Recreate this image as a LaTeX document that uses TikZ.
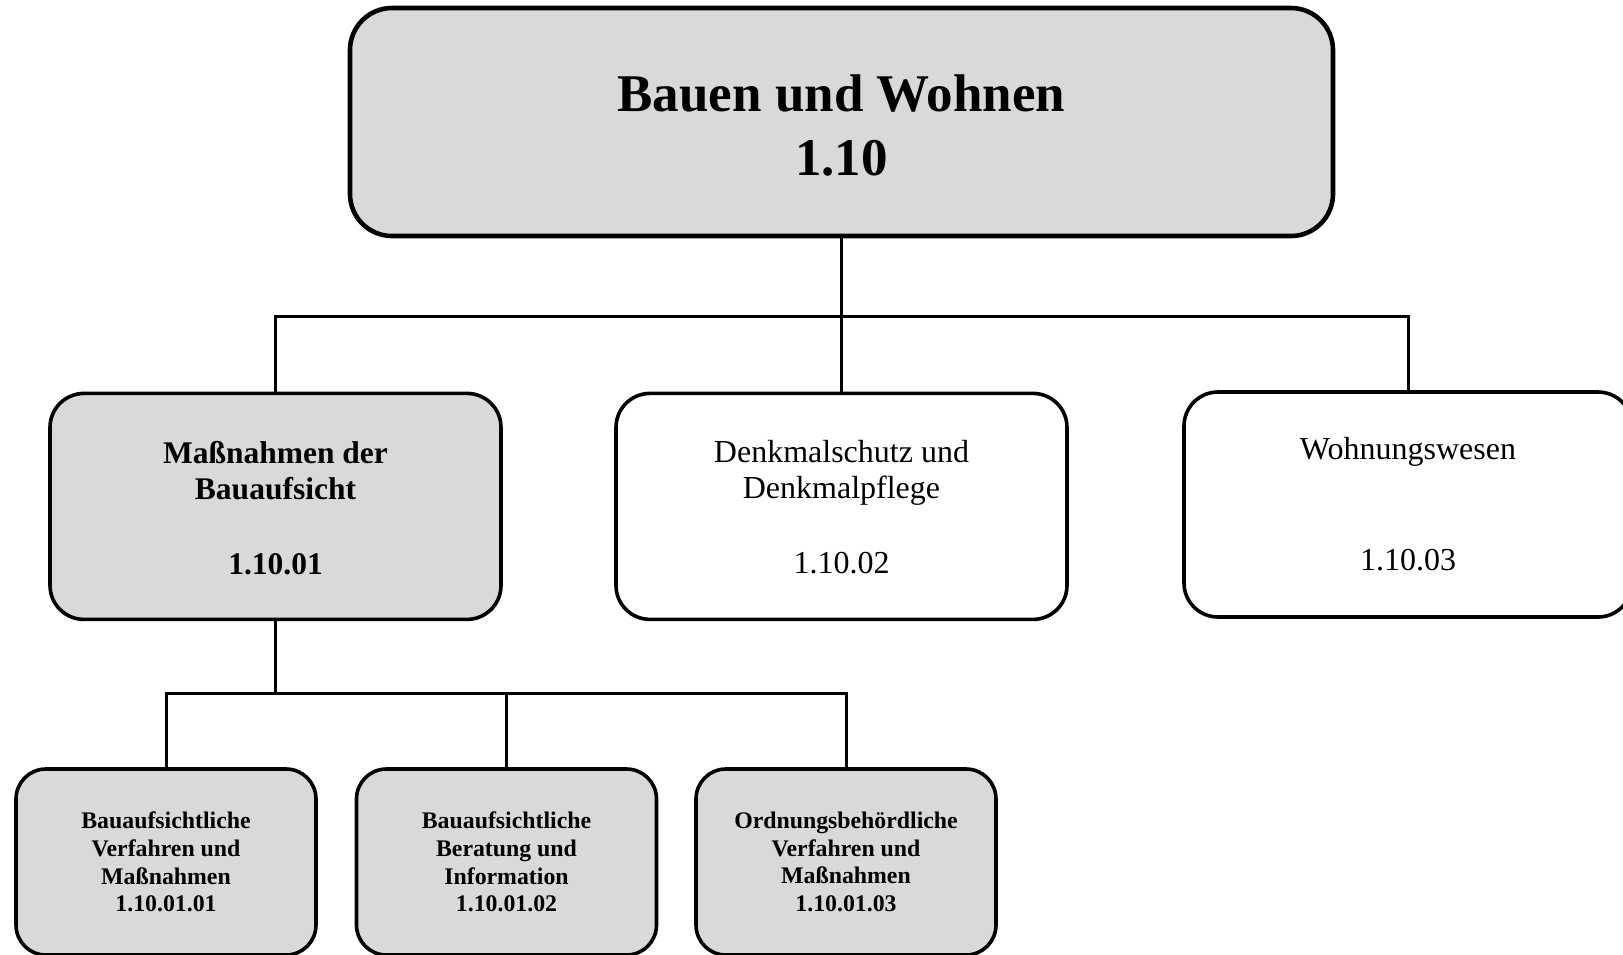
\documentclass[tikz,border=0pt]{standalone}
\usepackage{fontspec}
\setmainfont{Liberation Serif}
\definecolor{boxgray}{RGB}{217,217,217}
\tikzset{
  box/.style={draw=black, line width=3.6pt, rounded corners=34pt, inner sep=0pt, align=center, text=black},
  topbox/.style={box, fill=boxgray, line width=4.6pt, rounded corners=42pt, minimum width=983pt, minimum height=228pt,
    font=\fontsize{53}{64}\selectfont\bfseries},
  midgray/.style={box, fill=boxgray, minimum width=451pt, minimum height=226pt,
    font=\fontsize{31.5}{36}\selectfont\bfseries},
  midwhite/.style={box, fill=white, minimum width=451pt, minimum height=226pt,
    font=\fontsize{32}{36}\selectfont},
  lowbox/.style={box, fill=boxgray, rounded corners=30pt, minimum width=300pt, minimum height=186pt,
    font=\fontsize{23.8}{27.7}\selectfont\bfseries},
  conn/.style={draw=black, line width=3pt}
}
\begin{document}
\begin{tikzpicture}[x=1pt, y=-1pt]
  \path[use as bounding box] (0,0) rectangle (1623,954);
  \clip (0,0) rectangle (1623,954);
  % top level
  \node[topbox] (top) at (841.5,122) {\rule{0pt}{43pt}Bauen und Wohnen\\1.10};
  % second level
  \node[midgray] (l2a) at (275.5,506.4) {\rule{0pt}{25.5pt}Maßnahmen der\\Bauaufsicht\\[39pt]1.10.01};
  \node[midwhite] (l2b) at (841.5,506.4) {\rule{0pt}{24pt}Denkmalschutz und\\Denkmalpflege\\[39pt]1.10.02};
  \node[midwhite, minimum width=448pt, minimum height=225pt] (l2c) at (1408,504.5) {Wohnungswesen\\[75pt]1.10.03};
  % third level
  \node[lowbox] (l3a) at (166,862) {Bauaufsichtliche\\Verfahren und\\Maßnahmen\\1.10.01.01};
  \node[lowbox] (l3b) at (506.5,862) {Bauaufsichtliche\\Beratung und\\Information\\1.10.01.02};
  \node[lowbox] (l3c) at (846,862) {Ordnungsbehördliche\\Verfahren und\\Maßnahmen\\1.10.01.03};
  % connectors level 1 -> 2
  \coordinate (bus1) at (841.5,316);
  \draw[conn] (top.south) -- (l2b.north);
  \draw[conn] (l2a.north) |- (bus1) -| (l2c.north);
  % connectors level 2 -> 3
  \coordinate (bus2) at (275.5,693.5);
  \draw[conn] (l2a.south) -- (bus2);
  \draw[conn] (l3a.north) |- (bus2) -| (l3c.north);
  \draw[conn] (l3b.north) -- (l3b.north |- bus2);
\end{tikzpicture}
\end{document}
